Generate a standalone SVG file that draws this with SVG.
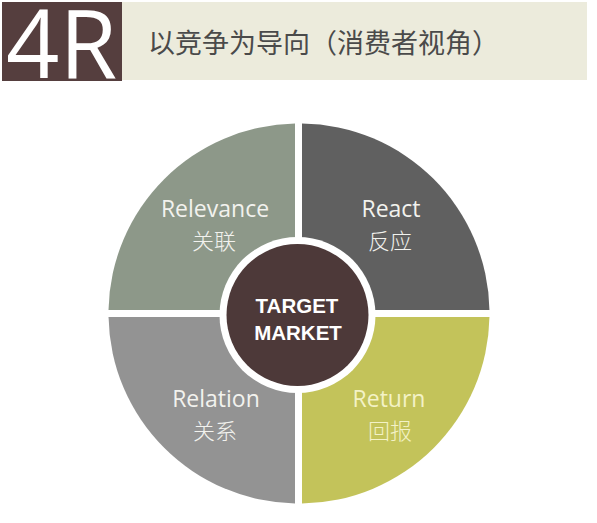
<svg xmlns="http://www.w3.org/2000/svg" width="597" height="523" viewBox="0 0 597 523">
<style>
.lbl{font-family:"Open Sans","Noto Sans",sans-serif;font-size:23px;fill:#f2f2ee;text-anchor:middle}
.cjk{font-family:"Noto Sans CJK SC",sans-serif;font-size:22px;fill:#f2f2ee;text-anchor:middle;font-weight:300}
.ctr{font-family:"Liberation Sans",Arial,sans-serif;font-weight:bold;font-size:20.5px;fill:#ffffff;text-anchor:middle}
</style>
<rect width="597" height="523" fill="#ffffff"/>
<g id="header">
<rect x="122" y="2" width="465" height="78" fill="#ecebdc"/>
<rect x="2" y="2" width="120" height="79" fill="#553e3e"/>
<text x="6" y="78" font-family="Open Sans,Noto Sans,sans-serif" font-size="96" fill="#ffffff" textLength="111" lengthAdjust="spacingAndGlyphs">4R</text>
<text x="148" y="53" font-family="Noto Sans CJK SC,sans-serif" font-size="27" fill="#4a4a4a">以竞争为导向（消费者视角）</text>
</g>
<g id="relevance">
<path d="M295,310 L295,123.53 A190,190 0 0 0 108.53,310 Z" fill="#8d9889"/>
<text class="lbl" x="215" y="217">Relevance</text>
<text class="cjk" x="214" y="249">关联</text>
</g>
<g id="react">
<path d="M302,310 L489.47,310 A190,190 0 0 0 302,123.53 Z" fill="#606060"/>
<text class="lbl" x="391" y="217">React</text>
<text class="cjk" x="390" y="249">反应</text>
</g>
<g id="return">
<path d="M302,317 L302,503.47 A190,190 0 0 0 489.47,317 Z" fill="#c3c35a"/>
<text class="lbl" x="389" y="407" style="fill:#f3f2c6">Return</text>
<text class="cjk" x="390" y="439" style="fill:#f3f2c6">回报</text>
</g>
<g id="relation">
<path d="M295,317 L108.53,317 A190,190 0 0 0 295,503.47 Z" fill="#939393"/>
<text class="lbl" x="216" y="407">Relation</text>
<text class="cjk" x="215" y="439">关系</text>
</g>
<g id="target-market">
<circle cx="297.5" cy="315" r="78" fill="#ffffff"/>
<circle cx="297.5" cy="315" r="71" fill="#4d3939"/>
<text class="ctr" x="297" y="313">TARGET</text>
<text class="ctr" x="298" y="340">MARKET</text>
</g>
<g id="connectors"></g>
</svg>
